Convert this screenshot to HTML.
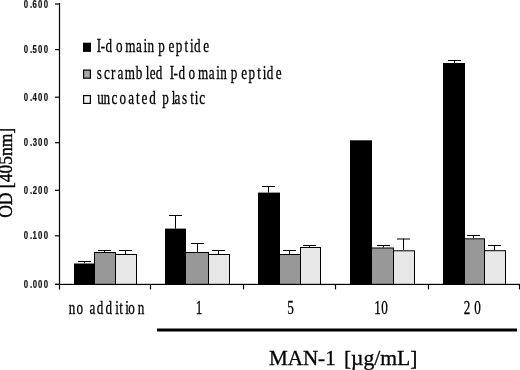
<!DOCTYPE html>
<html><head><meta charset="utf-8"><style>
html,body{margin:0;padding:0;background:#fff;}
svg{display:block;filter:grayscale(1);}
.yl{font-family:"Liberation Sans",sans-serif;font-size:10px;font-weight:bold;fill:#111;stroke:#111;stroke-width:0.2px;}
.ser{font-family:"Liberation Serif",serif;fill:#000;}
</style></head><body>
<svg width="520" height="370" viewBox="0 0 520 370">
<rect width="520" height="370" fill="#fff"/>
<rect x="74" y="263.5" width="21" height="20.9" fill="#000"/>
<rect x="84" y="261" width="1" height="2.5" fill="#000"/>
<rect x="78" y="261" width="13" height="1" fill="#000"/>
<rect x="94" y="252" width="22" height="32.4" fill="#000"/>
<rect x="95" y="253" width="20" height="31.4" fill="#989898"/>
<rect x="104" y="250" width="1" height="2.0" fill="#000"/>
<rect x="98" y="250" width="13" height="1" fill="#000"/>
<rect x="115" y="254" width="22" height="30.4" fill="#000"/>
<rect x="116" y="255" width="20" height="29.4" fill="#e7e7e7"/>
<rect x="125" y="250" width="1" height="4.0" fill="#000"/>
<rect x="119" y="250" width="13" height="1" fill="#000"/>
<rect x="165" y="228.6" width="21" height="55.8" fill="#000"/>
<rect x="175" y="215" width="1" height="13.6" fill="#000"/>
<rect x="169" y="215" width="13" height="1" fill="#000"/>
<rect x="185" y="252" width="24" height="32.4" fill="#000"/>
<rect x="186" y="253" width="22" height="31.4" fill="#989898"/>
<rect x="197" y="243" width="1" height="9.0" fill="#000"/>
<rect x="191" y="243" width="13" height="1" fill="#000"/>
<rect x="208" y="254" width="22" height="30.4" fill="#000"/>
<rect x="209" y="255" width="20" height="29.4" fill="#e7e7e7"/>
<rect x="218" y="250" width="1" height="4.0" fill="#000"/>
<rect x="212" y="250" width="13" height="1" fill="#000"/>
<rect x="258" y="192.6" width="22" height="91.8" fill="#000"/>
<rect x="268" y="186" width="1" height="6.6" fill="#000"/>
<rect x="262" y="186" width="13" height="1" fill="#000"/>
<rect x="279" y="254" width="22" height="30.4" fill="#000"/>
<rect x="280" y="255" width="20" height="29.4" fill="#989898"/>
<rect x="289" y="250" width="1" height="4.0" fill="#000"/>
<rect x="283" y="250" width="13" height="1" fill="#000"/>
<rect x="300" y="247" width="21" height="37.4" fill="#000"/>
<rect x="301" y="248" width="19" height="36.4" fill="#e7e7e7"/>
<rect x="309" y="245" width="1" height="2.0" fill="#000"/>
<rect x="303" y="245" width="13" height="1" fill="#000"/>
<rect x="350" y="140.3" width="22" height="144.1" fill="#000"/>
<rect x="371" y="247.5" width="23" height="36.9" fill="#000"/>
<rect x="372" y="248.5" width="21" height="35.9" fill="#989898"/>
<rect x="383" y="245" width="1" height="2.5" fill="#000"/>
<rect x="377" y="245" width="13" height="1" fill="#000"/>
<rect x="393" y="250.3" width="22" height="34.1" fill="#000"/>
<rect x="394" y="251.3" width="20" height="33.1" fill="#e7e7e7"/>
<rect x="403" y="238.5" width="1" height="11.8" fill="#000"/>
<rect x="397" y="238.5" width="13" height="1" fill="#000"/>
<rect x="443" y="63" width="22" height="221.4" fill="#000"/>
<rect x="454" y="60" width="1" height="3.0" fill="#000"/>
<rect x="448" y="60" width="13" height="1" fill="#000"/>
<rect x="464" y="238.3" width="21" height="46.1" fill="#000"/>
<rect x="465" y="239.3" width="19" height="45.1" fill="#989898"/>
<rect x="473" y="235" width="1" height="3.3" fill="#000"/>
<rect x="467" y="235" width="13" height="1" fill="#000"/>
<rect x="484" y="250.2" width="22" height="34.2" fill="#000"/>
<rect x="485" y="251.2" width="20" height="33.2" fill="#e7e7e7"/>
<rect x="494" y="245" width="1" height="5.2" fill="#000"/>
<rect x="488" y="245" width="13" height="1" fill="#000"/>
<rect x="58.9" y="3" width="1.2" height="286.5" fill="#000"/>
<rect x="55" y="283.8" width="465" height="1.2" fill="#000"/>
<rect x="55" y="3.4" width="4.5" height="1.2" fill="#000"/>
<text transform="translate(24,7.6) scale(0.78,1)" x="-0.40 7.85 11.06 17.87 25.43" class="yl">0.600</text>
<rect x="55" y="49.0" width="4.5" height="1.2" fill="#000"/>
<text transform="translate(24,53.2) scale(0.78,1)" x="-0.40 7.85 11.05 17.87 25.43" class="yl">0.500</text>
<rect x="55" y="96.6" width="4.5" height="1.2" fill="#000"/>
<text transform="translate(24,100.8) scale(0.78,1)" x="-0.40 7.85 11.02 17.87 25.43" class="yl">0.400</text>
<rect x="55" y="142.1" width="4.5" height="1.2" fill="#000"/>
<text transform="translate(24,146.3) scale(0.78,1)" x="-0.40 7.85 11.13 17.87 25.43" class="yl">0.300</text>
<rect x="55" y="189.7" width="4.5" height="1.2" fill="#000"/>
<text transform="translate(24,193.9) scale(0.78,1)" x="-0.40 7.85 11.09 17.87 25.43" class="yl">0.200</text>
<rect x="55" y="235.2" width="4.5" height="1.2" fill="#000"/>
<text transform="translate(24,239.4) scale(0.78,1)" x="-0.40 7.85 10.89 17.87 25.43" class="yl">0.100</text>
<rect x="55" y="283.8" width="4.5" height="1.2" fill="#000"/>
<text transform="translate(24,288.0) scale(0.78,1)" x="-0.40 7.85 11.07 17.87 25.43" class="yl">0.000</text>
<rect x="149.9" y="284.4" width="1.2" height="5" fill="#000"/>
<rect x="242.9" y="284.4" width="1.2" height="5" fill="#000"/>
<rect x="334.9" y="284.4" width="1.2" height="5" fill="#000"/>
<rect x="427.9" y="284.4" width="1.2" height="5" fill="#000"/>
<rect x="518.9" y="284.4" width="1.2" height="5" fill="#000"/>
<rect x="83" y="42.7" width="8" height="9.2" fill="#000"/>
<rect x="83" y="69.5" width="8" height="9.3" fill="#000"/><rect x="84.2" y="70.7" width="5.6" height="6.9" fill="#a8a8a8"/>
<rect x="83" y="95" width="8" height="9" fill="#000"/><rect x="84.2" y="96.2" width="5.6" height="6.6" fill="#f4f4f4"/>
<g class="ser" font-size="18" stroke="#000" stroke-width="0.3">
<text transform="translate(95.0,52) scale(0.73,1)" x="2.54 7.95 14.46 28.72 41.44 56.09 66.32 71.80 80.80 86.53 100.62 110.50 122.74 130.22 135.63 148.23" y="0">I-domain peptide</text>
<text transform="translate(95.3,79) scale(0.73,1)" x="1.93 11.97 21.56 30.33 40.49 55.43 69.01 74.73 82.96 91.96 102.06 107.27 114.05 127.83 140.76 155.40 165.56 171.05 180.05 185.71 199.80 209.82 221.98 229.26 234.94 247.06" y="0">scrambled I-domain peptide</text>
<text transform="translate(96.6,104) scale(0.73,1)" x="1.01 9.54 20.46 31.25 43.35 54.04 61.45 72.00 81.00 89.95 102.84 106.63 117.14 128.15 134.61 140.60" y="0">uncoated plastic</text>
<text transform="translate(68.1,314) scale(0.73,1)" x="0.91 11.39 20.39 29.37 39.26 51.18 64.61 69.93 78.30 82.35 95.57" y="0">no addition</text>
<text transform="translate(195.3,314) scale(0.73,1)" x="0.73" y="0">1</text>
<text transform="translate(286.6,314) scale(0.73,1)" x="0.81" y="0">5</text>
<text transform="translate(373.8,314) scale(0.73,1)" x="0.73 10.16" y="0">10</text>
<text transform="translate(463,314) scale(0.73,1)" x="1.08 15.36" y="0">20</text>
</g>
<text class="ser" font-size="18" stroke="#000" stroke-width="0.4" transform="translate(12,217.8) rotate(-90)" textLength="90" lengthAdjust="spacingAndGlyphs">OD [405nm]</text>
<rect x="157" y="328.5" width="360" height="3" fill="#000"/>
<g class="ser" font-size="21.8" stroke="#000" stroke-width="0.3"><text x="268.9" y="365" textLength="66.8" lengthAdjust="spacingAndGlyphs">MAN-1</text><text x="343.9" y="365" textLength="73.6" lengthAdjust="spacingAndGlyphs">[µg/mL]</text></g>
</svg>
</body></html>
